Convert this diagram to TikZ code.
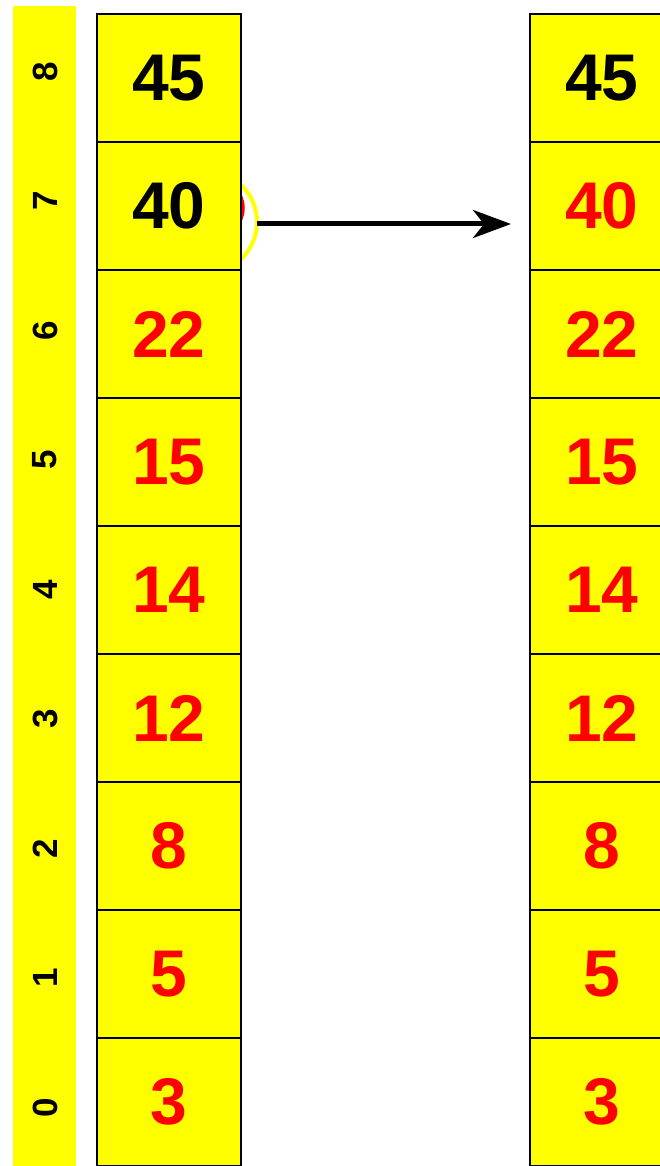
\documentclass[tikz,border=0pt]{standalone}
\usepackage{fontspec}
\setmainfont{Liberation Sans}
\usetikzlibrary{arrows.meta,calc}
\definecolor{yel}{RGB}{255,255,0}
\definecolor{redtxt}{RGB}{255,0,0}
\tikzset{
  cell/.style={draw=black, line width=2pt, fill=yel, minimum width=144pt, minimum height=128pt, inner sep=0pt, font=\fontsize{66}{66}\selectfont\bfseries},
  redval/.style={text=redtxt},
  blackval/.style={text=black},
  idx/.style={rotate=90, inner sep=0pt, font=\fontsize{35}{35}\selectfont\bfseries},
  arr/.style={line width=5pt, -{Stealth[length=38pt, width=28pt, inset=11pt]}}
}
\begin{document}
\begin{tikzpicture}[x=1pt, y=-1pt]
\useasboundingbox (0,0) rectangle (660,1166);
\fill[white] (0,0) rectangle (660,1166);
% index strip
\fill[yel] (13,6) rectangle (76,1166);
\foreach \i in {0,...,8} {
  \node[idx] (I\i) at (45,{71.5+129.5*(8-\i)}) {\i};
}
% highlight arcs behind the 40 cell
\draw[redtxt, line width=3.5pt] (215,208) circle[radius=28];
\draw[yel, line width=4pt] (206,222) circle[radius=51];
% left column
\node[cell, blackval] (L8) at (169,78) {45};
\node[cell, blackval] (L7) at (169,206) {40};
\node[cell, redval] (L6) at (169,334) {22};
\node[cell, redval] (L5) at (169,462) {15};
\node[cell, redval] (L4) at (169,590) {14};
\node[cell, redval] (L3) at (169,718) {12};
\node[cell, redval] (L2) at (169,846) {8};
\node[cell, redval] (L1) at (169,974) {5};
\node[cell, redval] (L0) at (169,1102) {3};
% right column
\node[cell, blackval] (R8) at (602,78) {45};
\node[cell, redval] (R7) at (602,206) {40};
\node[cell, redval] (R6) at (602,334) {22};
\node[cell, redval] (R5) at (602,462) {15};
\node[cell, redval] (R4) at (602,590) {14};
\node[cell, redval] (R3) at (602,718) {12};
\node[cell, redval] (R2) at (602,846) {8};
\node[cell, redval] (R1) at (602,974) {5};
\node[cell, redval] (R0) at (602,1102) {3};
% arrow
\coordinate (a0) at ($(L7.east)+(15,18)$);
\coordinate (a1) at ($(R7.west)+(-18,18)$);
\draw[arr] (a0) -- (a1);
\end{tikzpicture}
\end{document}
